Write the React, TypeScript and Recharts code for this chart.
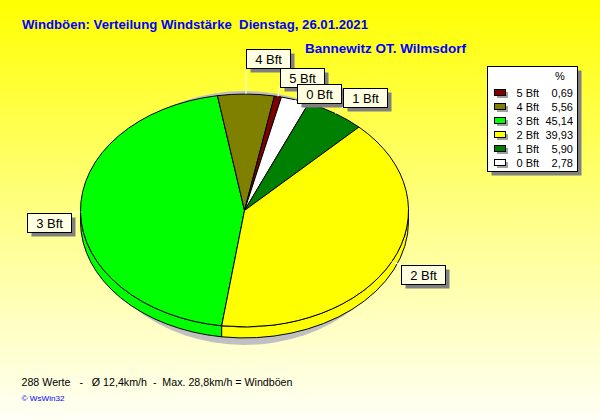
import React from 'react';
import { PieChart, Pie } from 'recharts';

// Wind force classes (Beaufort) and their share of all gust readings, in %
const categories = ['5 Bft', '4 Bft', '3 Bft', '2 Bft', '1 Bft', '0 Bft'];
const shares = [0.69, 5.56, 45.14, 39.93, 5.9, 2.78];
const sliceColors = ['#800000', '#808000', '#00ff00', '#ffff00', '#008000', '#ffffff'];
// Order in which the slices run clockwise around the disc
const sliceOrder = ['3 Bft', '4 Bft', '5 Bft', '0 Bft', '1 Bft', '2 Bft'];

const titleText = 'Windböen: Verteilung Windstärke  Dienstag, 26.01.2021';
const stationText = 'Bannewitz OT. Wilmsdorf';
const footerText = '288 Werte   -   Ø 12,4km/h  -  Max. 28,8km/h = Windböen';
const creditText = '© WsWin32';
const percentHeader = '%';

const pieData = sliceOrder.map((name) => {
  const i = categories.indexOf(name);
  return { name, value: shares[i], color: sliceColors[i] };
});

// ---- layout ----
const W = 600;
const H = 420;
const CX = 244.5;
const CY = 210.5;
const R = 164;
const TILT = 0.71; // vertical squash of the tilted disc
const DEPTH = 11; // visible thickness of the disc
const FONT = '"Liberation Sans", Arial, sans-serif';

// Leader line from the rim to the corner of each tag box
const leaderOffset: Record<string, [number, number]> = {
  '3 Bft': [-9.5, 1.3],
  '4 Bft': [0, -26],
  '5 Bft': [2, -9.7],
  '0 Bft': [2, 3.6],
  '1 Bft': [8, -6.8],
  '2 Bft': [9, 3.2],
};

const rad = (a: number) => (a * Math.PI) / 180;
const rim = (cx: number, cy: number, r: number, a: number, dy = 0) => ({
  x: cx + r * Math.cos(rad(a)),
  y: cy - r * TILT * Math.sin(rad(a)) + dy,
});

const colorOf = (p: any) => (p.payload && p.payload.color) || p.color;
const nameOf = (p: any) => (p.payload && p.payload.name) || p.name;

// Drop shadow and the visible front wall of the disc
const renderSide = (p: any) => {
  const { cx, cy, outerRadius: r, startAngle: s, endAngle: e, index } = p;
  const lo = Math.min(s, e);
  const hi = Math.max(s, e);
  const ry = r * TILT;
  const parts: React.ReactNode[] = [];
  const frontRanges: [number, number][] = [
    [-540, -360],
    [-180, 0],
    [180, 360],
  ];
  frontRanges.forEach(([L, U]) => {
    const a0 = Math.max(lo, L);
    const a1 = Math.min(hi, U);
    if (a1 - a0 <= 0.01) return;
    const p0 = rim(cx, cy, r, a0);
    const p1 = rim(cx, cy, r, a1);
    const d = `M${p0.x},${p0.y} A${r},${ry} 0 0 0 ${p1.x},${p1.y} L${p1.x},${p1.y + DEPTH} A${r},${ry} 0 0 1 ${p0.x},${p0.y + DEPTH} Z`;
    parts.push(<path key={L} d={d} fill={colorOf(p)} stroke="#000" strokeWidth={1} strokeLinejoin="round" />);
  });
  return (
    <g>
      {index === 0 && <ellipse cx={cx} cy={cy + 7.5} rx={r - 8} ry={ry + 10.5} fill="#c0c0c0" />}
      {parts}
    </g>
  );
};

// Top face of each slice
const renderTop = (p: any) => {
  const { cx, cy, outerRadius: r, startAngle: s, endAngle: e } = p;
  const a = rim(cx, cy, r, s);
  const b = rim(cx, cy, r, e);
  const large = Math.abs(s - e) > 180 ? 1 : 0;
  const sweep = e < s ? 1 : 0;
  const d = `M${cx},${cy} L${a.x},${a.y} A${r},${r * TILT} 0 ${large} ${sweep} ${b.x},${b.y} Z`;
  return <path d={d} fill={colorOf(p)} stroke="#000" strokeWidth={1} strokeLinejoin="round" />;
};

// Tag boxes with leader lines
const renderTag = (p: any) => {
  const { cx, cy, outerRadius: r, startAngle: s, endAngle: e } = p;
  const m = p.midAngle != null ? p.midAngle : (s + e) / 2;
  const name = nameOf(p);
  const edge = rim(cx, cy, r, m);
  const [dx, dy] = leaderOffset[name] || [0, 0];
  const end = { x: edge.x + dx, y: edge.y + dy };
  const w = 44;
  const h = 19;
  const bx = Math.round(Math.cos(rad(m)) >= 0 ? end.x : end.x - w) + 0.5;
  const by = Math.round(Math.sin(rad(m)) > 0 ? end.y - h : end.y) + 0.5;
  return (
    <g>
      <line x1={edge.x} y1={edge.y} x2={end.x} y2={end.y} stroke="#ffffff" strokeWidth={1} />
      <rect x={bx + 4} y={by + 4} width={w} height={h} fill="#808080" />
      <rect x={bx} y={by} width={w} height={h} fill="#ffffe1" stroke="#000" strokeWidth={1} />
      <text x={bx + w / 2} y={by + 14.5} textAnchor="middle" fontSize={13} fontFamily={FONT} fill="#000">
        {name}
      </text>
    </g>
  );
};

const fmt = (v: number) => v.toFixed(2).replace('.', ',');

export default function App() {
  const pieCommon = {
    data: pieData,
    dataKey: 'value',
    nameKey: 'name',
    cx: CX,
    cy: CY,
    outerRadius: R,
    startAngle: 262,
    endAngle: -98,
    fill: 'none',
    stroke: 'none',
    labelLine: false,
    isAnimationActive: false,
  };
  return (
    <div
      style={{
        position: 'relative',
        width: W,
        height: H,
        background: 'linear-gradient(to bottom, #ffff00 0%, #ffff90 55%, #fffff6 100%)',
        overflow: 'hidden',
      }}
    >
      <style>{'body{margin:0;}'}</style>
      <div style={{ position: 'absolute', left: 0, top: 0 }}>
        <PieChart width={W} height={H} margin={{ top: 0, right: 0, bottom: 0, left: 0 }}>
          <Pie {...pieCommon} label={renderSide} />
          <Pie {...pieCommon} label={renderTop} />
          <Pie {...pieCommon} label={renderTag} />
        </PieChart>
      </div>
      <svg width={W} height={H} style={{ position: 'absolute', left: 0, top: 0, pointerEvents: 'none' }}>
        <text
          x={22}
          y={29}
          fontFamily={FONT}
          fontWeight="bold"
          fontSize={13}
          fill="#0000ff"
          textLength={346}
          lengthAdjust="spacingAndGlyphs"
          style={{ whiteSpace: 'pre' }}
        >
          {titleText}
        </text>
        <text
          x={305}
          y={53}
          fontFamily={FONT}
          fontWeight="bold"
          fontSize={13}
          fill="#0000ff"
          textLength={161}
          lengthAdjust="spacingAndGlyphs"
        >
          {stationText}
        </text>

        {/* legend */}
        <rect x={491.5} y={70.5} width={90} height={105} fill="#808080" />
        <rect x={487.5} y={66.5} width={90} height={105} fill="#ffffff" stroke="#000" strokeWidth={1} />
        <text x={560} y={79.5} textAnchor="middle" fontFamily={FONT} fontSize={11} fill="#000">
          {percentHeader}
        </text>
        {categories.map((c, i) => {
          const base = 97 + 14 * i;
          return (
            <g key={c}>
              <rect x={497} y={base - 5} width={11} height={6} fill="#a0a0a0" />
              <rect x={494.5} y={base - 7.5} width={11} height={6} fill={sliceColors[i]} stroke="#000" strokeWidth={1} />
              <text x={516.5} y={base} fontFamily={FONT} fontSize={11} fill="#000">
                {c}
              </text>
              <text x={573} y={base} textAnchor="end" fontFamily={FONT} fontSize={11} fill="#000">
                {fmt(shares[i])}
              </text>
            </g>
          );
        })}

        <text
          x={21.5}
          y={386}
          fontFamily={FONT}
          fontSize={11}
          fill="#000"
          textLength={271}
          lengthAdjust="spacingAndGlyphs"
          style={{ whiteSpace: 'pre' }}
        >
          {footerText}
        </text>
        <text
          x={21.5}
          y={401}
          fontFamily={FONT}
          fontSize={7}
          fill="#0000ff"
          textLength={43}
          lengthAdjust="spacingAndGlyphs"
        >
          {creditText}
        </text>
      </svg>
    </div>
  );
}
